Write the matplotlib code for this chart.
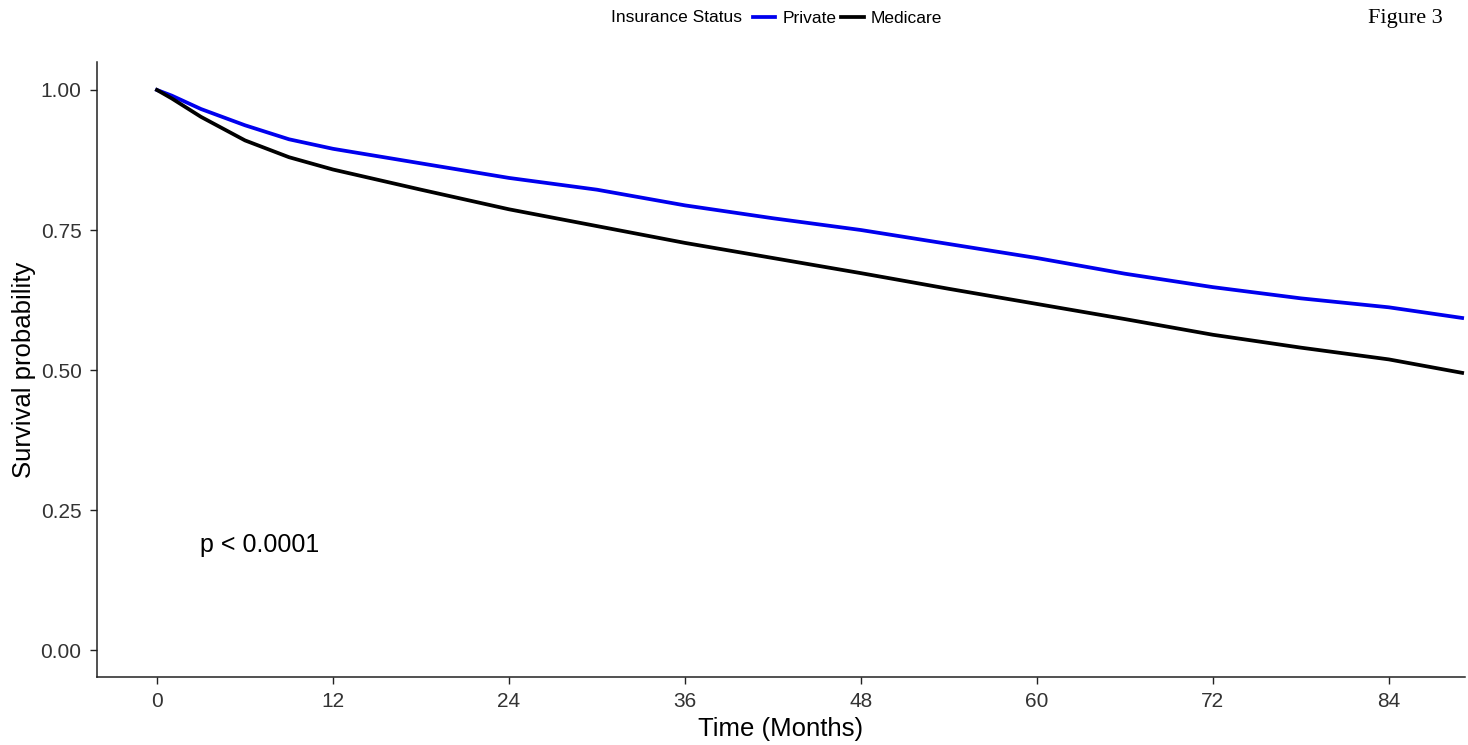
import matplotlib
matplotlib.use("Agg")
import matplotlib.pyplot as plt

plt.rcParams['font.family'] = ['Liberation Sans', 'DejaVu Sans']

# survival estimates
months = [0, 1, 3, 6, 9, 12, 18, 24, 30, 36, 42, 48, 54, 60, 66, 72, 78, 84, 89]
private = [1.0, 0.99, 0.966, 0.937, 0.912, 0.895, 0.869, 0.843, 0.822, 0.794,
           0.771, 0.750, 0.725, 0.700, 0.672, 0.648, 0.628, 0.612, 0.593]
medicare = [1.0, 0.985, 0.952, 0.910, 0.880, 0.858, 0.822, 0.787, 0.757, 0.727,
            0.700, 0.673, 0.645, 0.618, 0.591, 0.563, 0.540, 0.519, 0.495]
xticks = [0, 12, 24, 36, 48, 60, 72, 84]
yticks = [0.0, 0.25, 0.5, 0.75, 1.0]

fig = plt.figure(figsize=(14.68, 7.45), dpi=100)
ax = fig.add_axes([0.066, 0.0913, 0.932, 0.8255])

ax.plot(months, private, color='#0000ee', lw=2.7, label='Private')
ax.plot(months, medicare, color='black', lw=2.7, label='Medicare')

ax.set_xlim(-4.1, 89.2)
ax.set_ylim(-0.048, 1.05)
ax.set_xticks(xticks)
ax.set_yticks(yticks)
ax.set_yticklabels(["%.2f" % v for v in yticks])
ax.tick_params(labelsize=15, colors='#333333', length=5, width=1, pad=6)
ax.tick_params(color='#222222')

for s in ['top', 'right']:
    ax.spines[s].set_visible(False)
for s in ['left', 'bottom']:
    ax.spines[s].set_linewidth(1.1)
    ax.spines[s].set_color('#222222')

ax.set_xlabel("Time (Months)", fontsize=18.5, labelpad=4)
ax.set_ylabel("Survival probability", fontsize=18.5, labelpad=3)

ax.text(2.9, 0.1875, "p < 0.0001", fontsize=18, ha='left', va='center')

# legend across the top
fig.text(742 / 1468, 1 - 18 / 745, "Insurance Status", fontsize=12.5, ha='right', va='center')
fig.legend(loc='center left', bbox_to_anchor=(744 / 1468, 1 - 18 / 745), ncol=2, frameon=False,
           fontsize=12.5, handlelength=1.3, handletextpad=0.4, columnspacing=0.3, borderpad=0)

fig.text(1405 / 1468, 1 - 18 / 745, "Figure 3", fontsize=16, ha='center', va='center',
         family=['Liberation Serif', 'DejaVu Serif'])

fig.savefig("out.png", dpi=100)
